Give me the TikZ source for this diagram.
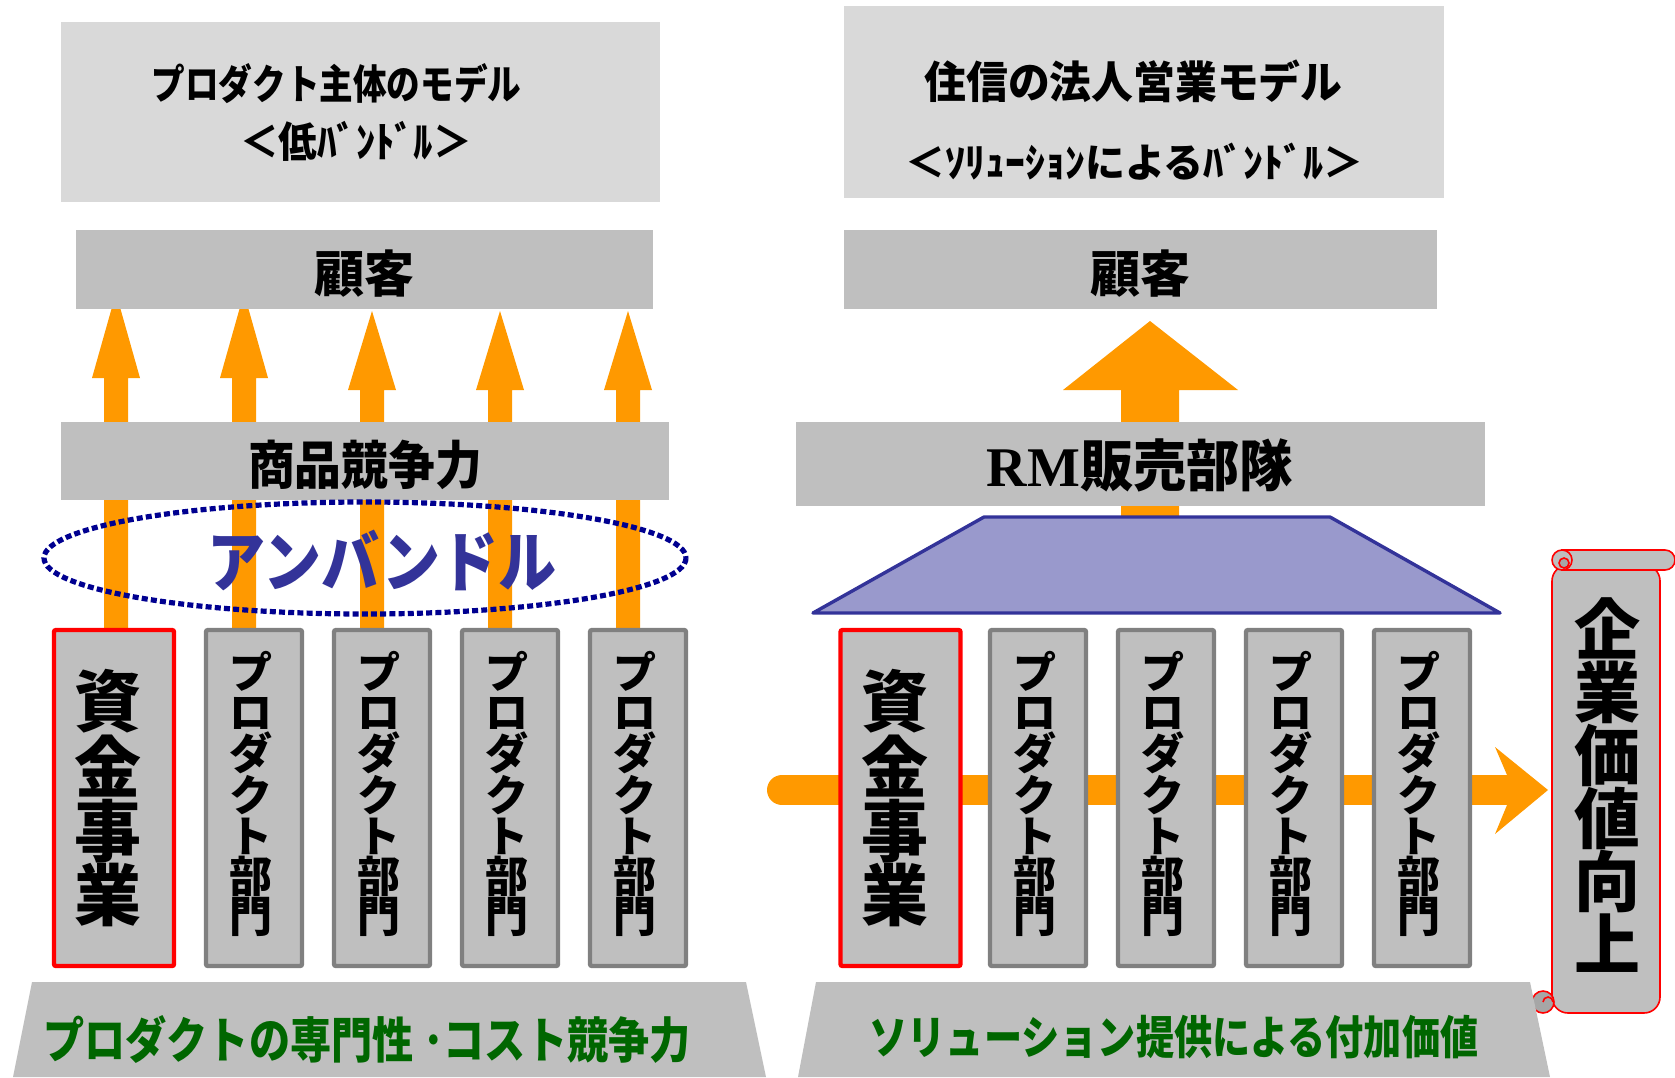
\documentclass[tikz,border=0pt]{standalone}
\usepackage{fontspec}
\usepackage{graphicx}
\setmainfont{Noto Sans CJK JP}
\newfontfamily\rmserif{Liberation Serif}
\definecolor{lgray}{HTML}{D9D9D9}
\definecolor{mgray}{HTML}{BFBFBF}
\definecolor{dgray}{HTML}{A6A6A6}
\definecolor{bordergray}{HTML}{808080}
\definecolor{aorange}{HTML}{FF9900}
\definecolor{ellblue}{HTML}{000090}
\definecolor{indigo}{HTML}{333399}
\definecolor{pfill}{HTML}{9999CC}
\definecolor{dgreen}{HTML}{006600}
\newcommand{\hs}[2]{\scalebox{#1}[1]{#2}}
\begin{document}
\begin{tikzpicture}[x=0.5pt,y=-0.5pt,
  lbox/.style={fill=lgray, inner sep=0, outer sep=0},
  mbox/.style={fill=mgray, inner sep=0, outer sep=0},
  pillar/.style={fill=mgray, draw=bordergray, line width=2.2pt, rounded corners=1pt, minimum width=48pt, minimum height=168pt, inner sep=0},
  redpillar/.style={pillar, draw=red, minimum width=60pt},
  txt/.style={inner sep=0, outer sep=0, text=black},
  vtxt/.style={txt, align=center},
  blockarrow/.style={fill=aorange},
  scrollst/.style={fill=mgray, draw=red, line width=0.8pt},
]
\useasboundingbox (0,0) rectangle (1675,1077);

% ---------------- LEFT ----------------
\node[lbox, minimum width=299.5pt, minimum height=90pt] (tl) at (360.5,112) {};
\node[txt, font=\fontsize{20.5}{20.5}\selectfont\bfseries] (tl1) at (336.5,84) {\hs{0.82}{プロダクト主体のモデル}};
\node[txt, font=\fontsize{21}{21}\selectfont\bfseries] (tl2) at (356,141.5) {\hs{0.92}{＜低ﾊﾞﾝﾄﾞﾙ＞}};

% up arrows
\foreach \c/\t/\b in {116/293/378, 244/293/378, 372/311/390, 500/311/390, 628/311/390}
  \fill[blockarrow] (\c-12,630) -- (\c-12,\b) -- (\c-24,\b) -- (\c,\t) -- (\c+24,\b) -- (\c+12,\b) -- (\c+12,630) -- cycle;

\node[mbox, minimum width=288.5pt, minimum height=39.5pt] (custL) at (364.5,269.5) {};
\node[txt, font=\fontsize{25}{25}\selectfont\bfseries] (custLt) at (364.5,274) {顧客};

\node[mbox, minimum width=304pt, minimum height=39pt] (prodcomp) at (365,461) {};
\node[txt, font=\fontsize{26}{26}\selectfont\bfseries] (prodcompt) at (365,465) {\hs{0.9}{商品競争力}};

\draw[ellblue, line width=2.6pt, dash pattern=on 3pt off 1.6pt] (365,558) ellipse[x radius=321, y radius=56];
\node[txt, text=indigo, font=\fontsize{33}{33}\selectfont\bfseries] (unb) at (382,560) {\hs{0.88}{アンバンドル}};

% pillars left
\node[redpillar] (pL0) at (114,798) {};
\node[vtxt, font=\fontsize{33.5}{32}\selectfont\bfseries] at (108,798) {資\\金\\事\\業};
\foreach \i/\x in {1/254, 2/382, 3/510, 4/638}{
  \node[pillar] (pL\i) at (\x,798) {};
  \node[vtxt, font=\fontsize{21.5}{20.2}\selectfont\bfseries] (pLt\i) at (\x-3,794) {プ\\ロ\\ダ\\ク\\ト\\部\\門};
}

% bottom left trapezoid
\fill[mgray] (32,982) -- (746,982) -- (766,1077) -- (13,1077) -- cycle;
\node[txt, text=dgreen, font=\fontsize{24.5}{24.5}\selectfont\bfseries] (botL) at (367,1039) {\hs{0.84}{プロダクトの専門性 ･コスト競争力}};

% ---------------- RIGHT ----------------
\node[lbox, minimum width=300pt, minimum height=96pt] (tr) at (1144,102) {};
\node[txt, font=\fontsize{22}{22}\selectfont\bfseries] (tr1) at (1133.5,81.5) {\hs{0.95}{住信の法人営業モデル}};
\node[txt, font=\fontsize{20}{20}\selectfont\bfseries] (tr2) at (1134.5,162) {＜ｿﾘｭｰｼｮﾝによるﾊﾞﾝﾄﾞﾙ＞};

\node[mbox, minimum width=296.5pt, minimum height=39.5pt] (custR) at (1140.5,269.5) {};
\node[txt, font=\fontsize{25}{25}\selectfont\bfseries] (custRt) at (1140.5,274) {顧客};

\fill[blockarrow] (1121,517) -- (1121,390) -- (1063,390) -- (1150,321) -- (1238,390) -- (1179,390) -- (1179,517) -- cycle;

\node[mbox, minimum width=344.5pt, minimum height=42pt] (rm) at (1140.5,464) {};
\node[txt, font=\fontsize{28}{28}\selectfont\bfseries] (rmt) at (1140,465) {{\rmserif RM}\hs{0.95}{販売部隊}};

\filldraw[fill=pfill, draw=indigo, line width=1.7pt, line join=round] (984,517) -- (1330,517) -- (1500,613) -- (813,613) -- cycle;

% horizontal arrow
\draw[aorange, line width=15pt, line cap=round] (782,790) -- (1508,790);
\fill[blockarrow] (1507,775) -- (1495,747) -- (1548,790) -- (1495,834) -- (1507,805) -- cycle;

% pillars right
\node[redpillar] (pR0) at (900.5,798) {};
\node[vtxt, font=\fontsize{33.5}{32}\selectfont\bfseries] at (895,798) {資\\金\\事\\業};
\foreach \i/\x in {1/1038, 2/1166, 3/1294, 4/1422}{
  \node[pillar] (pR\i) at (\x,798) {};
  \node[vtxt, font=\fontsize{21.5}{20.2}\selectfont\bfseries] (pRt\i) at (\x-3,794) {プ\\ロ\\ダ\\ク\\ト\\部\\門};
}

% scroll
\filldraw[scrollst, rounded corners=8] (1552,565) -- (1552,1013) -- (1660,1013) -- (1660,565) -- cycle;
\filldraw[scrollst] (1562,550) -- (1665,550) arc[start angle=-90, end angle=90, radius=10] -- (1562,570) -- cycle;
\filldraw[scrollst] (1562,560) circle[radius=10];
\filldraw[scrollst, fill=dgray] (1564,563) circle[radius=5];
\filldraw[scrollst, fill=dgray] (1543,1002) circle[radius=11];
\draw[red, line width=0.8pt] (1543,1002) arc[start angle=180, end angle=360, radius=5];
\node[vtxt, font=\fontsize{33}{31.5}\selectfont\bfseries] (kigyo) at (1607,785) {企\\業\\価\\値\\向\\上};

% bottom right trapezoid
\fill[mgray] (816,982) -- (1530,982) -- (1550,1077) -- (798,1077) -- cycle;
\node[txt, text=dgreen, font=\fontsize{23}{23}\selectfont\bfseries] (botR) at (1174,1037) {\hs{0.83}{ソリューション提供による付加価値}};
\end{tikzpicture}
\end{document}
